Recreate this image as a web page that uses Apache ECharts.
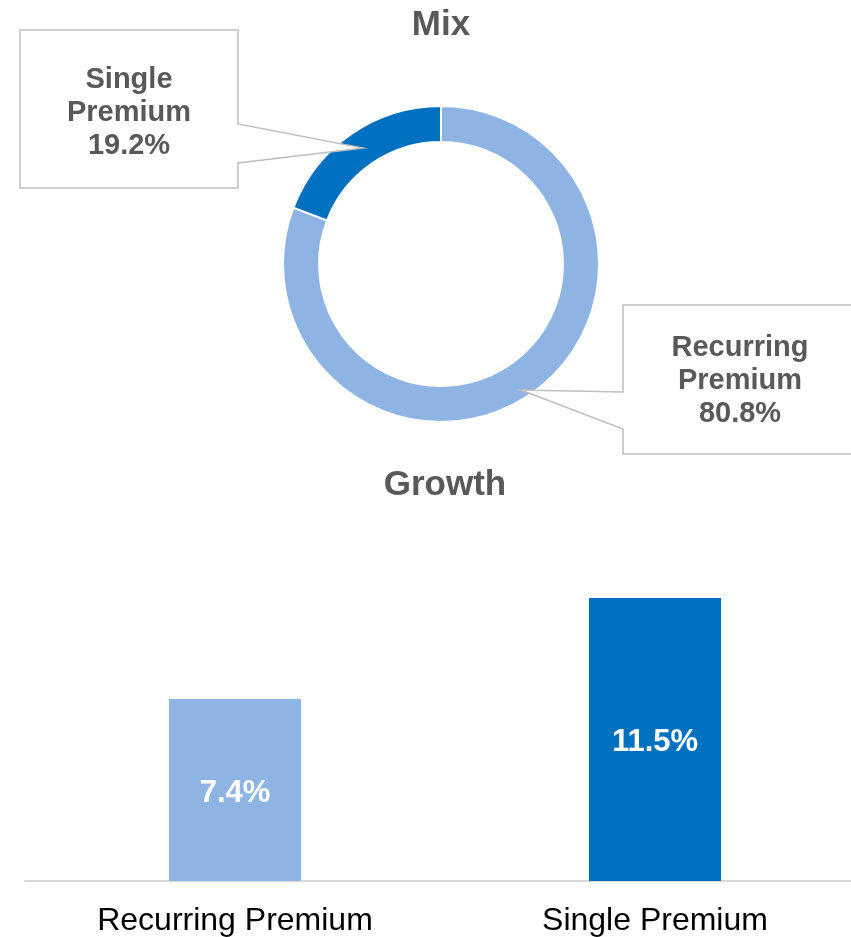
<!DOCTYPE html>
<html>
<head>
<meta charset="utf-8">
<script src="https://cdn.jsdelivr.net/npm/echarts@6/dist/echarts.min.js"></script>
<style>
  html, body { margin: 0; padding: 0; background: #fff; }
  #chart { width: 851px; height: 937px; }
</style>
</head>
<body>
<div id="chart"></div>
<script>
// mix (donut)
const mixNames = ['Recurring\nPremium', 'Single\nPremium']
const mixValues = [80.8, 19.2]
// growth (bars)
const growthCategories = ['Recurring Premium', 'Single Premium']
const growthValues = [7.4, 11.5]

const colors = ['#8EB4E3', '#0070C0']
const textGray = '#595959'
const font = 'Arial, "Liberation Sans", sans-serif'

const chart = echarts.init(document.getElementById('chart'))

function callout(points, cx, cy, text) {
  return [
    {
      type: 'polygon',
      z: 10,
      shape: { points },
      style: { fill: '#fff', stroke: '#bfbfbf', lineWidth: 1.5 }
    },
    {
      type: 'text',
      z: 11,
      x: cx,
      y: cy,
      style: {
        text,
        fill: textGray,
        font: 'bold 29px ' + font,
        align: 'center',
        verticalAlign: 'middle',
        lineHeight: 33
      }
    }
  ]
}

function heading(text, x, y) {
  return {
    type: 'text',
    x, y,
    style: { text, fill: textGray, font: 'bold 35px ' + font, align: 'center', verticalAlign: 'middle' }
  }
}

chart.setOption({
  backgroundColor: '#fff',
  animation: false,
  grid: { left: 25, width: 840, top: 512, bottom: 56, outerBoundsMode: 'none' },
  xAxis: {
    type: 'category',
    data: growthCategories,
    axisLine: { lineStyle: { color: '#d9d9d9', width: 2 } },
    axisTick: { show: false },
    axisLabel: { color: '#000', fontSize: 32, fontFamily: font, margin: 24 }
  },
  yAxis: {
    type: 'value',
    min: 0,
    max: 15,
    show: false
  },
  series: [
    {
      type: 'pie',
      center: [441, 264],
      radius: [122, 158],
      startAngle: 90,
      clockwise: true,
      silent: true,
      label: { show: false },
      labelLine: { show: false },
      itemStyle: { borderColor: '#fff', borderWidth: 2 },
      data: mixNames.map((n, i) => ({ name: n, value: mixValues[i], itemStyle: { color: colors[i] } }))
    },
    {
      type: 'bar',
      barWidth: 132,
      data: growthValues.map((v, i) => ({ value: v, itemStyle: { color: colors[i] } })),
      label: {
        show: true,
        position: 'inside',
        offset: [0, 3],
        color: '#fff',
        fontSize: 31,
        fontWeight: 'bold',
        fontFamily: font,
        formatter: p => p.value.toFixed(1) + '%'
      }
    }
  ],
  graphic: [
    heading('Mix', 441, 25),
    heading('Growth', 445, 485),
    ...callout(
      [[20, 30], [238, 30], [238, 124], [363, 148], [238, 163], [238, 188], [20, 188]],
      129, 113, mixNames[1] + '\n' + mixValues[1].toFixed(1) + '%'
    ),
    ...callout(
      [[623, 305], [860, 305], [860, 454], [623, 454], [623, 429], [521, 390], [623, 392]],
      740, 381, mixNames[0] + '\n' + mixValues[0].toFixed(1) + '%'
    )
  ]
})
</script>
</body>
</html>
